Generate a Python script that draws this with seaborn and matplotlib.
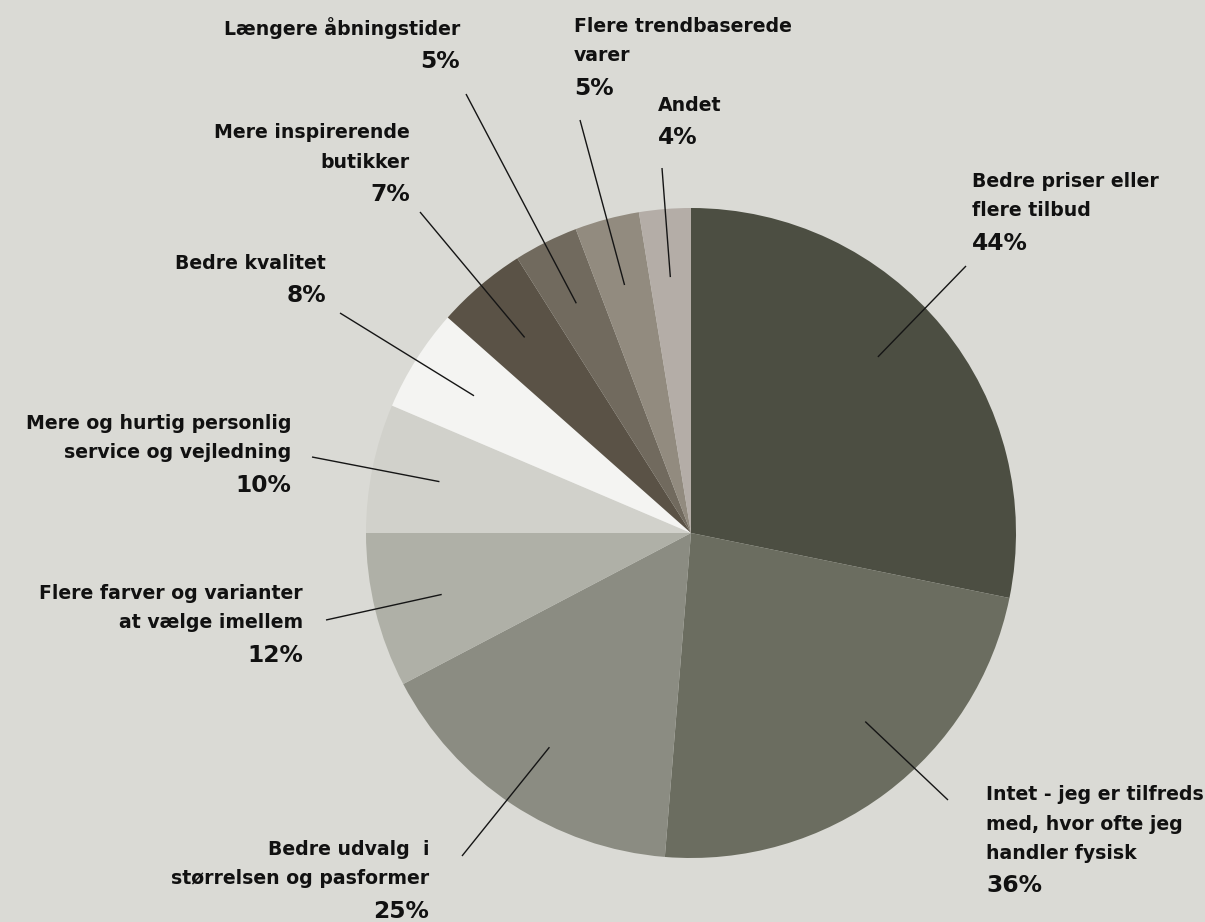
import numpy as np
import matplotlib
matplotlib.use("Agg")
import matplotlib.pyplot as plt
import seaborn as sns

# Survey answers (multiple answers allowed, so shares sum to more than 100)
categories = [
    "Bedre priser eller\nflere tilbud",
    "Intet - jeg er tilfreds\nmed, hvor ofte jeg\nhandler fysisk",
    "Bedre udvalg  i\nstørrelsen og pasformer",
    "Flere farver og varianter\nat vælge imellem",
    "Mere og hurtig personlig\nservice og vejledning",
    "Bedre kvalitet",
    "Mere inspirerende\nbutikker",
    "Længere åbningstider",
    "Flere trendbaserede\nvarer",
    "Andet",
]
shares = [44, 36, 25, 12, 10, 8, 7, 5, 5, 4]

slice_colors = [
    "#4c4e42", "#6b6d60", "#8b8c82", "#afb0a7", "#d1d1cb",
    "#f4f4f2", "#5a5246", "#716a5e", "#928b7f", "#b4ada7",
]
background = "#dadad5"

# Label placement in pixel units (top-left origin): text x, first baseline,
# horizontal alignment, and where the leader line ends outside the pie.
label_x = [972, 986, 429, 303, 291, 326, 410, 460, 574, 658]
label_y = [187, 800, 855, 599, 429, 269, 138, 35, 32, 111]
label_ha = ["left", "left", "right", "right", "right",
            "right", "right", "right", "left", "left"]
leader_end = [(966, 266), (948, 800), (462, 856), (326, 620), (312, 457),
              (340, 313), (420, 212), (466, 94), (580, 120), (662, 168)]
# position of the leader start across each wedge (0 = first edge, 1 = last)
leader_frac = [0.46, 0.43, 0.5, 0.5, 0.5, 0.5, 0.5, 0.5, 0.5, 0.5]

W, H = 1205, 922
cx, cy, R = 691, 533, 325
line_step = 29.5
pct_step = 33.5

sns.set_theme(style="white")
plt.rcParams["font.family"] = ["DejaVu Sans"]

fig = plt.figure(figsize=(W / 100, H / 100), dpi=100, facecolor=background)
ax = fig.add_axes([0, 0, 1, 1])
ax.set_facecolor(background)

palette = sns.color_palette(slice_colors)
wedges, _ = ax.pie(
    shares,
    colors=palette,
    startangle=90,
    counterclock=False,
    center=(cx, H - cy),
    radius=R,
    wedgeprops=dict(linewidth=0, antialiased=True),
)

for i, (w, name, val) in enumerate(zip(wedges, categories, shares)):
    # counterclock=False: theta2 is the wedge's first (clockwise-start) edge
    ang = w.theta2 + (w.theta1 - w.theta2) * leader_frac[i]
    ang = np.deg2rad(ang)
    x0 = cx + 0.79 * R * np.cos(ang)
    y0 = (H - cy) + 0.79 * R * np.sin(ang)
    ex, ey = leader_end[i]
    ax.plot([x0, ex], [y0, H - ey], color="#151515", lw=1.0,
            solid_capstyle="butt", zorder=3)

    y = label_y[i]
    for ln in name.split("\n"):
        ax.text(label_x[i], H - y, ln, ha=label_ha[i], va="baseline",
                fontsize=13.6, fontweight="bold", color="#111111")
        y += line_step
    y += pct_step - line_step
    ax.text(label_x[i], H - y, f"{val}%", ha=label_ha[i], va="baseline",
            fontsize=16.8, fontweight="bold", color="#111111")

ax.set_xlim(0, W)
ax.set_ylim(0, H)
ax.set_aspect("equal")
ax.axis("off")

fig.savefig("out.png", dpi=100, facecolor=background)
